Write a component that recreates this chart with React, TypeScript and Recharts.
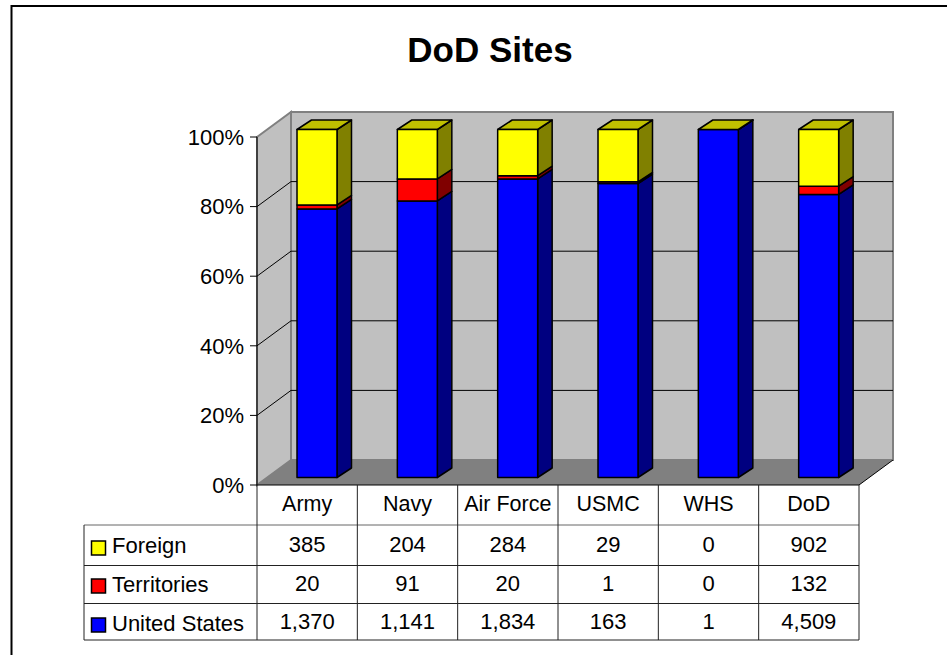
import React from 'react';
import { BarChart, Bar, XAxis, YAxis, CartesianGrid } from 'recharts';

const categories = ['Army', 'Navy', 'Air Force', 'USMC', 'WHS', 'DoD'];
const foreign = [385, 204, 284, 29, 0, 902];
const territories = [20, 91, 20, 1, 0, 132];
const unitedStates = [1370, 1141, 1834, 163, 1, 4509];
const yTicks = [0, 0.2, 0.4, 0.6, 0.8, 1];

const chartData = categories.map((name, i) => ({
  name,
  foreign: foreign[i],
  territories: territories[i],
  unitedStates: unitedStates[i]
}));

const tableRows = [
  { label: 'Foreign', color: '#ffff00', values: foreign },
  { label: 'Territories', color: '#ff0000', values: territories },
  { label: 'United States', color: '#0000ff', values: unitedStates }
];

const FONT = '"Liberation Sans", Arial, sans-serif';
const LEFT = 257;
const RIGHT = 859;
const TOP = 137;
const BOTTOM = 485;
const WALL_DX = 34;
const WALL_DY = 25;
const BAR_DX = 10;
const BAR_DY = -7.5;
const SIDE_DX = 14.5;
const SIDE_DY = 9.5;
const ROW_Y = [525, 565.5, 603.5, 640];
const SWATCH_Y = [548, 586, 625];
const LABEL_Y = [553, 592, 631];
const VALUE_Y = [552, 591, 629];
const COL_W = (RIGHT - LEFT) / categories.length;

const shade = (color: string, top: string, side: string, withTop: boolean) => (props: any) => {
  const x = props.x + BAR_DX;
  const y = props.y + BAR_DY;
  const w = props.width;
  const h = props.height;
  return (
    <g stroke="#000" strokeWidth={1.5} strokeLinejoin="round">
      <polygon
        points={`${x + w},${y} ${x + w + SIDE_DX},${y - SIDE_DY} ${x + w + SIDE_DX},${y + h - SIDE_DY} ${x + w},${y + h}`}
        fill={side}
      />
      {withTop && (
        <polygon
          points={`${x},${y} ${x + SIDE_DX},${y - SIDE_DY} ${x + w + SIDE_DX},${y - SIDE_DY} ${x + w},${y}`}
          fill={top}
        />
      )}
      <rect x={x} y={y} width={w} height={h} fill={color} />
    </g>
  );
};

const GridLine = (props: any) => {
  const { x1, y1, x2 } = props;
  if (y1 >= BOTTOM - 0.5 || y1 <= TOP + 0.5) return <g />;
  return (
    <g stroke="#000" strokeWidth={1}>
      <line x1={x1} y1={y1} x2={x1 + WALL_DX} y2={y1 - WALL_DY} />
      <line x1={x1 + WALL_DX} y1={y1 - WALL_DY} x2={x2 + WALL_DX} y2={y1 - WALL_DY} />
    </g>
  );
};

const DataTable = () => (
  <g fontFamily={FONT} fontSize={22} fill="#000">
    <g stroke="#222" strokeWidth={1}>
      <line x1={84} y1={ROW_Y[0]} x2={RIGHT} y2={ROW_Y[0]} stroke="#666" />
      <line x1={84} y1={ROW_Y[1]} x2={RIGHT} y2={ROW_Y[1]} />
      <line x1={84} y1={ROW_Y[2]} x2={RIGHT} y2={ROW_Y[2]} />
      <line x1={84} y1={ROW_Y[3]} x2={RIGHT} y2={ROW_Y[3]} />
      <line x1={84} y1={ROW_Y[0]} x2={84} y2={ROW_Y[3]} />
      {categories.map((c, i) => (
        <line key={c} x1={LEFT + COL_W * i} y1={BOTTOM} x2={LEFT + COL_W * i} y2={ROW_Y[3]} />
      ))}
      <line x1={RIGHT} y1={BOTTOM} x2={RIGHT} y2={ROW_Y[3]} />
    </g>
    {tableRows.map((row, r) => (
      <g key={row.label}>
        <rect x={91.5} y={SWATCH_Y[r] - 7} width={14} height={14} fill={row.color} stroke="#000" strokeWidth={1.5} />
        <text x={112} y={LABEL_Y[r]}>{row.label}</text>
        {row.values.map((v, i) => (
          <text key={i} x={LEFT + COL_W * (i + 0.5)} y={VALUE_Y[r]} textAnchor="middle">
            {v.toLocaleString('en-US')}
          </text>
        ))}
      </g>
    ))}
  </g>
);

export default function App() {
  return (
    <div style={{ position: 'absolute', left: 0, top: 0, width: 947, height: 655, background: '#fff' }}>
      <BarChart
        width={947}
        height={655}
        data={chartData}
        stackOffset="expand"
        barSize={40}
        margin={{ top: TOP, right: 947 - RIGHT, bottom: 0, left: 0 }}
      >
        <polyline points="11.5,655 11.5,6 947,6" fill="none" stroke="#000" strokeWidth={2} />
        <text x={490} y={62} textAnchor="middle" fontFamily={FONT} fontSize={35} fontWeight="bold">
          DoD Sites
        </text>
        <polygon
          points={`${LEFT},${TOP} ${LEFT + WALL_DX},${TOP - WALL_DY} ${LEFT + WALL_DX},${BOTTOM - WALL_DY} ${LEFT},${BOTTOM}`}
          fill="#c0c0c0"
          stroke="#808080"
          strokeWidth={2}
        />
        <rect
          x={LEFT + WALL_DX}
          y={TOP - WALL_DY}
          width={RIGHT - LEFT}
          height={BOTTOM - TOP}
          fill="#c0c0c0"
          stroke="#808080"
          strokeWidth={2}
        />
        <polygon
          points={`${LEFT},${BOTTOM} ${LEFT + WALL_DX},${BOTTOM - WALL_DY} ${RIGHT + WALL_DX},${BOTTOM - WALL_DY} ${RIGHT},${BOTTOM}`}
          fill="#808080"
        />
        <line x1={RIGHT} y1={BOTTOM} x2={RIGHT + WALL_DX} y2={BOTTOM - WALL_DY} stroke="#000" />
        <line x1={LEFT} y1={BOTTOM} x2={RIGHT} y2={BOTTOM} stroke="#000" />
        <CartesianGrid vertical={false} horizontal={GridLine} zIndex={0} />
        <XAxis
          dataKey="name"
          axisLine={false}
          tickLine={false}
          height={655 - BOTTOM}
          interval={0}
          tick={{ fontFamily: FONT, fontSize: 21.5, fill: '#000', dy: 3 }}
        />
        <YAxis
          width={LEFT}
          domain={[0, 1]}
          ticks={yTicks}
          tickFormatter={(v: number) => `${Math.round(v * 100)}%`}
          axisLine={{ stroke: '#000' }}
          tickLine={{ stroke: '#000' }}
          tickSize={7}
          tickMargin={6}
          tick={{ fontFamily: FONT, fontSize: 22, fill: '#000' }}
        />
        <Bar dataKey="unitedStates" stackId="a" isAnimationActive={false} shape={shade('#0000ff', '', '#000080', false)} />
        <Bar dataKey="territories" stackId="a" isAnimationActive={false} shape={shade('#ff0000', '', '#800000', false)} />
        <Bar dataKey="foreign" stackId="a" isAnimationActive={false} shape={shade('#ffff00', '#c0c000', '#808000', true)} />
        <DataTable />
      </BarChart>
    </div>
  );
}
